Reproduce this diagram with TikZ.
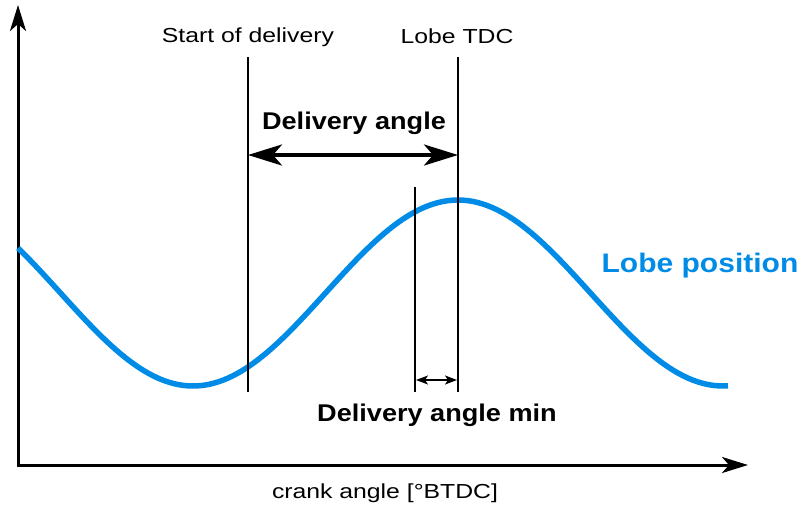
\documentclass[tikz,border=0pt]{standalone}
\usepackage{fontspec}
\setmainfont[FakeStretch=1.22]{Liberation Sans}
\newfontfamily\boldfam[FakeStretch=1.12]{Liberation Sans Bold}
\usetikzlibrary{arrows.meta}
\definecolor{lobeblue}{RGB}{0,140,230}
\tikzset{
  axis/.style={line width=3pt, -{Stealth[length=26pt,width=16pt,inset=7pt]}},
  marker/.style={line width=2pt},
  bigarrow/.style={line width=3.5pt, {Stealth[length=34pt,width=21pt,inset=9pt]}-{Stealth[length=34pt,width=21pt,inset=9pt]}, shorten <=-1pt, shorten >=-1pt},
  smallarrow/.style={line width=1.5pt, {Stealth[length=12pt,width=9pt,inset=3pt]}-{Stealth[length=12pt,width=9pt,inset=3pt]}},
  curve/.style={line width=5.5pt, lobeblue},
  lbl/.style={inner sep=0pt, anchor=base, font=\fontsize{20.3}{24}\selectfont},
  blbl/.style={inner sep=0pt, anchor=base, font=\boldfam\fontsize{24.2}{28}\selectfont},
}
\begin{document}
\begin{tikzpicture}[x=1pt,y=-1pt]
\useasboundingbox (0,0) rectangle (800,506);
% axes
\coordinate (origin) at (18,465);
\coordinate (ytop) at (18,5);
\coordinate (xend) at (748,465);
\draw[axis] (origin) -- (ytop);
\draw[axis] (origin) -- (xend);
\fill (16.5,463.5) rectangle (19.5,466.5);
% curve
\draw[curve] plot[domain=18:728, samples=160] (\x, {293-93*cos((\x-458)/265*180)});
% vertical marker lines
\coordinate (sdTop) at (248,57);
\coordinate (sdBot) at (248,392);
\coordinate (tdcTop) at (458,57);
\coordinate (tdcBot) at (458,392);
\coordinate (minTop) at (415,187);
\coordinate (minBot) at (415,392);
\draw[marker] (sdTop) -- (sdBot);
\draw[marker] (tdcTop) -- (tdcBot);
\draw[marker] (minTop) -- (minBot);
% arrows
\coordinate (daL) at (249,155);
\coordinate (daR) at (457,155);
\draw[bigarrow] (daL) -- (daR);
\coordinate (dmL) at (416,380);
\coordinate (dmR) at (457,380);
\draw[smallarrow] (dmL) -- (dmR);
% labels
\node[lbl] (sdl) at (248,42) {Start of delivery};
\node[lbl] (tdcl) at (457,43) {Lobe TDC};
\node[blbl] (dal) at (354,129) {Delivery angle};
\node[blbl] (dml) at (437,421) {Delivery angle min};
\node[blbl, text=lobeblue, font=\boldfam\fontsize{26.8}{30}\selectfont] (lpl) at (700,272) {Lobe position};
\node[lbl] (xl) at (385,498) {crank angle [°BTDC]};
\end{tikzpicture}
\end{document}
